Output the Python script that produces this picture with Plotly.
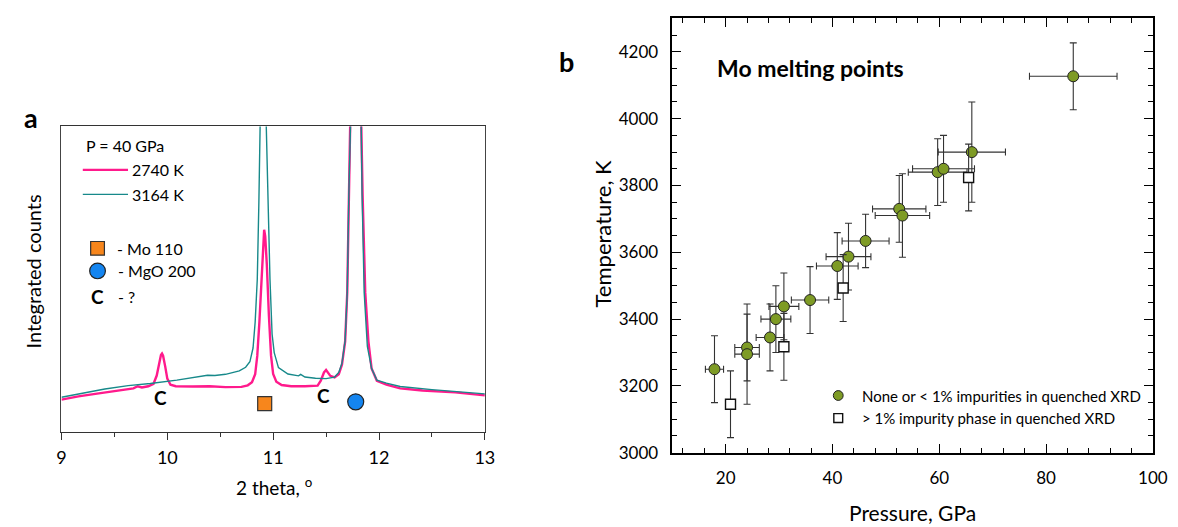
import plotly.graph_objects as go

W, H = 1178, 527
FONT = "Lato"

# ---------------- Panel a data ----------------
theta_2740 = [9.00, 9.16, 9.32, 9.47, 9.60, 9.68, 9.72, 9.76, 9.82, 9.87, 9.90, 9.92, 9.94, 9.95,
              9.96, 9.98, 10.00, 10.03, 10.08, 10.24, 10.40, 10.55, 10.70, 10.76, 10.80, 10.83,
              10.85, 10.87, 10.89, 10.905, 10.915, 10.925, 10.94, 10.96, 10.98, 11.00, 11.03,
              11.08, 11.17, 11.30, 11.42, 11.45, 11.48, 11.50, 11.52, 11.54, 11.58, 11.62, 11.65,
              11.68, 11.70, 11.72, 11.73, 11.78, 11.83, 11.845, 11.87, 11.90, 11.93, 11.98, 12.07,
              12.20, 12.41, 12.72, 13.00]
counts_2740 = [10.6, 11.7, 12.5, 13.3, 13.9, 14.3, 15.0, 14.6, 15.0, 15.8, 18.5, 22.5, 25.2, 25.7,
               25.0, 21.5, 17.5, 15.5, 15.0, 14.9, 15.0, 14.7, 14.8, 15.3, 16.3, 18.9,
               25.0, 36.0, 51.0, 62.0, 66.2, 64.0, 55.0, 38.0, 25.0, 19.0, 16.5,
               15.4, 15.0, 15.0, 15.2, 16.8, 19.5, 20.3, 19.3, 18.4, 17.9, 18.9, 22.0,
               29.6, 45.7, 77.8, 105.0, 160.0, 105.0, 77.8, 45.7, 29.6, 20.8, 16.8, 15.5,
               14.3, 13.6, 13.0, 12.0]

theta_3164 = [9.00, 9.16, 9.41, 9.63, 9.84, 10.09, 10.28, 10.38, 10.45, 10.55, 10.68, 10.74, 10.78,
              10.81, 10.83, 10.85, 10.865, 10.875, 10.91, 10.935, 10.95, 10.97, 10.99, 11.01, 11.05,
              11.14, 11.24, 11.26, 11.30, 11.40, 11.50, 11.58, 11.62, 11.65, 11.68, 11.70, 11.715,
              11.725, 11.78, 11.83, 11.84, 11.86, 11.89, 11.93, 11.98, 12.07, 12.20, 12.50, 12.72,
              13.00]
counts_3164 = [11.4, 12.5, 14.1, 15.2, 15.9, 17.0, 17.9, 18.6, 18.5, 18.9, 20.0, 21.2, 23.0,
               27.5, 36.0, 50.0, 75.0, 100.0, 170.0, 100.0, 77.8, 50.0, 32.0, 26.0, 21.1,
               19.0, 18.4, 18.9, 18.0, 17.6, 17.5, 18.0, 19.5, 22.5, 30.0, 45.7, 77.8,
               105.0, 170.0, 105.0, 77.8, 45.7, 28.0, 20.8, 17.0, 16.0, 14.9, 13.9, 13.3,
               12.5]

mo110_theta, mo110_y = [10.92], [9.3]
mgo200_theta, mgo200_y = [11.78], [9.9]
c_theta, c_y = [9.94, 11.48], [11.4, 12.0]

# ---------------- Panel b data ----------------
p_clean = [17.9, 24.0, 24.0, 28.3, 29.4, 30.9, 35.8, 40.9, 43.0, 46.2, 52.5, 53.1, 59.7, 60.8, 66.1, 85.1]
t_clean = [3250, 3315, 3295, 3345, 3400, 3438, 3457, 3559, 3587, 3634, 3730, 3710, 3840, 3850, 3900, 4127]
p_err_clean = [1.7, 2.3, 2.3, 2.6, 2.8, 2.8, 3.5, 3.9, 4.2, 4.4, 5.0, 5.1, 5.5, 5.8, 6.3, 8.2]
t_err_clean = [100, 100, 150, 100, 100, 100, 100, 100, 100, 80, 100, 125, 100, 100, 150, 100]

p_imp = [20.9, 30.9, 42.0, 65.5]
t_imp = [3145, 3317, 3493, 3824]
t_err_imp = [100, 100, 100, 100]

x_ticks_a = [9, 10, 11, 12, 13]
x_ticks_b = [20, 40, 60, 80, 100]
y_ticks_b = [3000, 3200, 3400, 3600, 3800, 4000, 4200]


def px(x):
    return x / W


def py(y):
    return 1 - y / H


PINK = "#FF1A8C"
TEAL = "#17898A"
ORANGE = "#F7861C"
BLUE = "#1485F0"
OLIVE = "#7E9B25"

fig = go.Figure()

# Panel a curves
fig.add_trace(go.Scatter(x=theta_2740, y=counts_2740, mode="lines", name="2740 K",
                         line=dict(color=PINK, width=2.4), xaxis="x", yaxis="y", showlegend=False))
fig.add_trace(go.Scatter(x=theta_3164, y=counts_3164, mode="lines", name="3164 K",
                         line=dict(color=TEAL, width=1.4), xaxis="x", yaxis="y", showlegend=False))
fig.add_trace(go.Scatter(x=mo110_theta, y=mo110_y, mode="markers", name="Mo 110",
                         marker=dict(symbol="square", size=14, color=ORANGE, line=dict(color="#333", width=1.2)),
                         xaxis="x", yaxis="y", showlegend=False, cliponaxis=False))
fig.add_trace(go.Scatter(x=mgo200_theta, y=mgo200_y, mode="markers", name="MgO 200",
                         marker=dict(symbol="circle", size=16, color=BLUE, line=dict(color="#222", width=1.2)),
                         xaxis="x", yaxis="y", showlegend=False, cliponaxis=False))

# Panel b scatter
ERR = "#333333"
fig.add_trace(go.Scatter(x=p_clean, y=t_clean, mode="markers", name="None or < 1% impurities in quenched XRD",
                         error_x=dict(type="data", array=p_err_clean, color=ERR, thickness=1.1, width=3.5),
                         error_y=dict(type="data", array=t_err_clean, color=ERR, thickness=1.1, width=3.5),
                         marker=dict(symbol="circle", size=11, color=OLIVE, line=dict(color="#222", width=1)),
                         xaxis="x2", yaxis="y2", showlegend=False))
fig.add_trace(go.Scatter(x=p_imp, y=t_imp, mode="markers", name="> 1% impurity phase in quenched XRD",
                         error_y=dict(type="data", array=t_err_imp, color=ERR, thickness=1.1, width=3.5),
                         marker=dict(symbol="square", size=10, color="white", line=dict(color="#111", width=1.4)),
                         xaxis="x2", yaxis="y2", showlegend=False))

annotations = []
shapes = []


def text(x, y, s, size, anchor="left", bold=False, angle=0):
    annotations.append(dict(x=px(x), y=py(y), xref="paper", yref="paper", text=s, showarrow=False,
                            xanchor=anchor, yanchor="middle", textangle=angle,
                            font=dict(family=FONT, size=size, color="black",
                                      weight="bold" if bold else "normal")))


# "C" peak labels in data coordinates of panel a
for cx, cy in zip(c_theta, c_y):
    annotations.append(dict(x=cx, y=cy, xref="x", yref="y", text="C", showarrow=False,
                            xanchor="center", yanchor="middle",
                            font=dict(family=FONT, size=19, color="black", weight="bold")))

# Panel labels
text(18, 112, "a", 27, "center", bold=True)
text(563, 55, "b", 27, "center", bold=True)

# Panel a key
text(72, 140, "P = 40 GPa", 16)
shapes.append(dict(type="line", xref="paper", yref="paper", x0=px(71), x1=px(117), y0=py(165), y1=py(165),
                   line=dict(color=PINK, width=2.4)))
text(119, 165, "2740 K", 16)
shapes.append(dict(type="line", xref="paper", yref="paper", x0=px(71), x1=px(117), y0=py(190), y1=py(190),
                   line=dict(color=TEAL, width=1.4)))
text(119, 190, "3164 K", 16)
shapes.append(dict(type="rect", xref="paper", yref="paper", x0=px(79), x1=px(93), y0=py(238), y1=py(252),
                   fillcolor=ORANGE, line=dict(color="#333", width=1.2)))
text(104, 245, "- Mo 110", 16)
shapes.append(dict(type="circle", xref="paper", yref="paper", x0=px(78), x1=px(94), y0=py(260), y1=py(276),
                   fillcolor=BLUE, line=dict(color="#222", width=1.2)))
text(105, 268, "- MgO 200", 16)
text(86, 294, "C", 19, "center", bold=True)
text(105, 294, "- ?", 16)

# Panel a axis titles
text(20, 269, "Integrated counts", 20, "center", angle=-90)
text(265, 488, "2 theta, <sup>o</sup>", 19, "center")

# Panel b texts
text(714, 61, "Mo melting points", 23, "left", bold=True)
text(600, 230, "Temperature, K", 22, "center", angle=-90)
text(915, 514, "Pressure, GPa", 21, "center")

# Panel b key
shapes.append(dict(type="circle", xref="paper", yref="paper", x0=px(834.5), x1=px(844.5), y0=py(390), y1=py(400),
                   fillcolor=OLIVE, line=dict(color="#222", width=1)))
text(862, 395, "None or &lt; 1% impurities in quenched XRD", 15)
shapes.append(dict(type="rect", xref="paper", yref="paper", x0=px(835), x1=px(844), y0=py(413.5), y1=py(422.5),
                   fillcolor="white", line=dict(color="#111", width=1.4)))
text(862, 418, "&gt; 1% impurity phase in quenched XRD", 15)

fig.update_layout(
    width=W, height=H, autosize=False,
    margin=dict(l=0, r=0, t=0, b=0),
    paper_bgcolor="white", plot_bgcolor="white",
    font=dict(family=FONT, color="black"),
    annotations=annotations, shapes=shapes,
    xaxis=dict(domain=[px(49.3), px(480)], anchor="y", range=[9, 13],
               tickvals=x_ticks_a, ticktext=[str(v) for v in x_ticks_a],
               ticks="outside", ticklen=7, tickwidth=1, tickcolor="#333",
               minor=dict(dtick=0.5, tick0=9, ticks="outside", ticklen=3.5, tickcolor="#333"),
               showline=True, linecolor="#333", linewidth=1.2, mirror=True,
               showgrid=False, zeroline=False,
               tickfont=dict(family=FONT, size=18, color="black"), ticklabelstandoff=2),
    yaxis=dict(domain=[py(432.3), py(120.7)], anchor="x", range=[0, 100],
               showticklabels=False, ticks="", showline=True, linecolor="#444", linewidth=1.2,
               mirror=True, showgrid=False, zeroline=False),
    xaxis2=dict(domain=[px(670.7), px(1159.5)], anchor="y2", range=[10, 100],
                tickvals=x_ticks_b, ticktext=[str(v) for v in x_ticks_b],
                ticks="inside", ticklen=9, tickwidth=1.2, tickcolor="black",
                minor=dict(dtick=4, tick0=0, ticks="inside", ticklen=5, tickwidth=1.2, tickcolor="black"),
                showline=True, linecolor="black", linewidth=1.5, mirror="allticks",
                showgrid=False, zeroline=False,
                tickfont=dict(family=FONT, size=17, color="black"), ticklabelstandoff=9),
    yaxis2=dict(domain=[py(453.3), py(10.7)], anchor="x2", range=[3000, 4300],
                tickvals=y_ticks_b, ticktext=[str(v) for v in y_ticks_b],
                ticks="inside", ticklen=9, tickwidth=1.2, tickcolor="black",
                minor=dict(dtick=50, tick0=3000, ticks="inside", ticklen=5, tickwidth=1.2, tickcolor="black"),
                showline=True, linecolor="black", linewidth=1.5, mirror="allticks",
                showgrid=False, zeroline=False,
                tickfont=dict(family=FONT, size=17, color="black"), ticklabelstandoff=9),
)

fig.write_html("out.html")
